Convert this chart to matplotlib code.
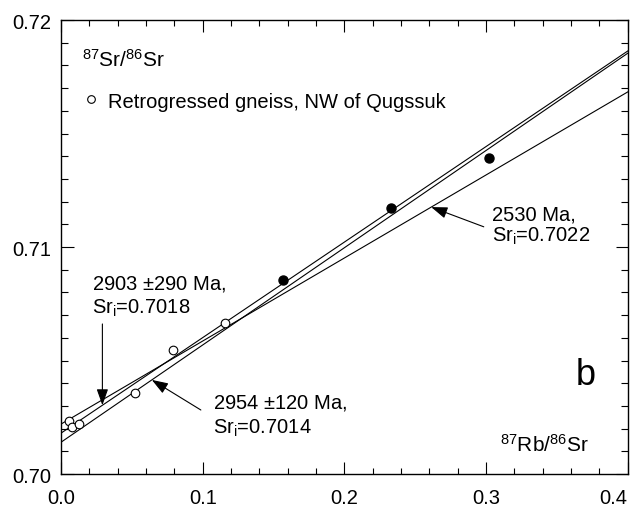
import numpy as np
import matplotlib
matplotlib.use("Agg")
import matplotlib.pyplot as plt
from matplotlib.ticker import MultipleLocator, FormatStrFormatter

plt.rcParams["font.family"] = ["Liberation Sans", "DejaVu Sans"]
plt.rcParams["mathtext.fontset"] = "custom"
plt.rcParams["mathtext.rm"] = "Liberation Sans"
plt.rcParams["mathtext.it"] = "Liberation Sans:italic"
plt.rcParams["mathtext.bf"] = "Liberation Sans:bold"

# 87Rb/86Sr and 87Sr/86Sr of the analysed samples
rb_open = [0.0057, 0.0080, 0.0127, 0.0523, 0.0792, 0.1157]
sr_open = [0.70232, 0.70206, 0.70220, 0.70355, 0.70548, 0.70664]
rb_filled = [0.1567, 0.2330, 0.3023]
sr_filled = [0.70855, 0.71170, 0.71392]

# isochrons: age (Ma) and initial ratio
iso_ages = [2530, 2903, 2954]
iso_sri = [0.7022, 0.7018, 0.7014]
LAMBDA_RB = 1.42e-11  # 87Rb decay constant, 1/a

x_ticklabels = ["0.0", "0.1", "0.2", "0.3", "0.4"]


def isochron(x, age, sri):
    return sri + (np.exp(LAMBDA_RB * age * 1e6) - 1.0) * x


fig = plt.figure(figsize=(6.31, 5.10), dpi=100)
ax = fig.add_axes([0.0967, 0.0686, 0.8981, 0.8902])

xx = np.array([0.0, 0.4])
for age, sri in zip(iso_ages, iso_sri):
    ax.plot(xx, isochron(xx, age, sri), color="black", lw=0.8, zorder=2)

ax.plot(rb_open, sr_open, "o", ms=6.2, mfc="white", mec="black", mew=0.8, zorder=3)
ax.plot(rb_filled, sr_filled, "o", ms=6.5, mfc="black", mec="black", zorder=3)

# arrows pointing at each isochron: (isochron, x of tip, tail x, tail y)
arrow_kw = dict(arrowstyle="-|>,head_length=0.9,head_width=0.32",
                color="black", lw=0.8, shrinkA=0, shrinkB=0, mutation_scale=11)
arrows = [(1, 0.0292, 0.0292, 0.70661),
          (2, 0.0641, 0.0987, 0.70282),
          (0, 0.2613, 0.2984, 0.71089)]
for i, xt, xs, ys in arrows:
    ax.annotate("", xy=(xt, isochron(xt, iso_ages[i], iso_sri[i])),
                xytext=(xs, ys), arrowprops=arrow_kw, zorder=4)

fs = 14.5
labels = [(1, "%d $\\pm$290 Ma," % iso_ages[1], 0.0221, 0.70818, 0.70712),
          (2, "%d $\\pm$120 Ma," % iso_ages[2], 0.1076, 0.70294, 0.70183),
          (0, "%d Ma," % iso_ages[0], 0.3044, 0.71123, 0.71028)]
for i, first, x0, y1, y2 in labels:
    ax.text(x0, y1, first, fontsize=fs, va="baseline", ha="left")
    ax.text(x0, y2, "Sr$_{\\mathrm{i}}$=%.4f" % iso_sri[i], fontsize=fs,
            va="baseline", ha="left")

ax.text(0.0365, 0.8993, "$^{87}$Sr/$^{86}$Sr", transform=ax.transAxes,
        fontsize=15, va="baseline")
ax.plot([0.0529], [0.826], "o", ms=5.5, mfc="white", mec="black", mew=0.8,
        transform=ax.transAxes)
ax.text(0.0830, 0.808, "Retrogressed gneiss, NW of Qugssuk",
        transform=ax.transAxes, fontsize=fs, va="baseline")
ax.text(0.7747, 0.0513, "$^{87}$Rb/$^{86}$Sr", transform=ax.transAxes,
        fontsize=15, va="baseline")
ax.text(0.908, 0.198, "b", transform=ax.transAxes, fontsize=26, va="baseline")

ax.set_xlim(0.0, 0.4)
ax.set_ylim(0.70, 0.72)
ax.set_xticks(np.arange(0, 0.41, 0.1))
ax.set_xticklabels(x_ticklabels)
ax.get_xticklabels()[-1].set_horizontalalignment("right")
ax.xaxis.set_minor_locator(MultipleLocator(0.02))
ax.yaxis.set_major_locator(MultipleLocator(0.01))
ax.yaxis.set_minor_locator(MultipleLocator(0.001))
ax.yaxis.set_major_formatter(FormatStrFormatter("%.2f"))

ax.tick_params(which="both", direction="in", top=True, right=True,
               width=0.8, labelsize=fs)
ax.tick_params(axis="x", which="major", length=8.5, pad=10)
ax.tick_params(axis="x", which="minor", length=4)
ax.tick_params(axis="y", which="major", length=9, pad=7)
ax.tick_params(axis="y", which="minor", length=5)
for sp in ax.spines.values():
    sp.set_linewidth(1.0)

fig.savefig("out.png", dpi=100)
plt.close(fig)
